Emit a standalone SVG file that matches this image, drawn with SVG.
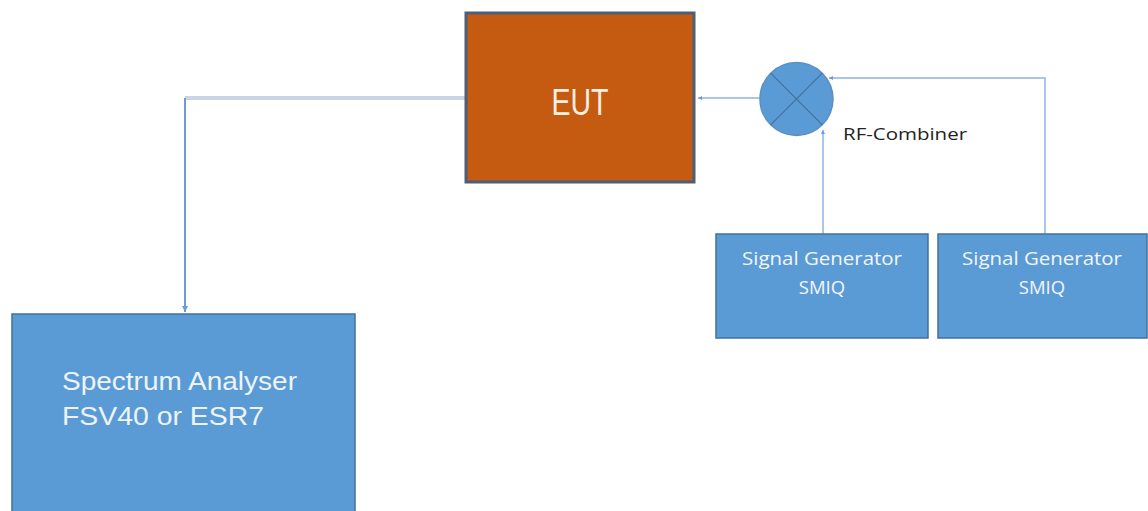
<svg xmlns="http://www.w3.org/2000/svg" width="1148" height="511" viewBox="0 0 1148 511">
<style>
.box{fill:#5b9bd5;stroke:#41719c;stroke-width:1.5}
.wt{fill:#f2f6fb;font-family:"Open Sans","Liberation Sans",sans-serif;text-anchor:middle}
.sa{fill:#eef3fa;font-family:"Liberation Sans",Arial,sans-serif}
.ln{fill:none;stroke:#8fb4e0;stroke-width:1.5}
</style>
<defs>
<marker id="ah" markerWidth="8" markerHeight="8" refX="6" refY="4" orient="auto" markerUnits="userSpaceOnUse">
<path d="M0,1 L6,4 L0,7 Z" fill="#6d9bd8"/>
</marker>
<marker id="ahs" markerWidth="6" markerHeight="6" refX="4" refY="3" orient="auto" markerUnits="userSpaceOnUse">
<path d="M0,1 L4,3 L0,5 Z" fill="#6d9bd8"/>
</marker>
</defs>
<rect width="1148" height="511" fill="#ffffff"/>
<g id="connectors">
<line x1="465" y1="98" x2="185" y2="98" stroke="#c9d5e4" stroke-width="4"/>
<line x1="185" y1="98" x2="185" y2="312" stroke="#6d9bd8" stroke-width="2" marker-end="url(#ah)"/>
<line x1="760" y1="98" x2="698" y2="98" class="ln" marker-end="url(#ahs)"/>
<line x1="823" y1="234" x2="823" y2="130" class="ln" marker-end="url(#ahs)"/>
<polyline points="1045,234 1045,78 829,78" class="ln" marker-end="url(#ahs)"/>
</g>
<g id="eut">
<rect x="466" y="13" width="228" height="169" fill="#c55a11" stroke="#4d5f78" stroke-width="3"/>
<text x="580" y="115" fill="#fbeee2" font-family="'Liberation Sans',Arial,sans-serif" font-size="37" text-anchor="middle" textLength="57" lengthAdjust="spacingAndGlyphs">EUT</text>
</g>
<g id="combiner">
<circle cx="796.5" cy="99" r="36.5" fill="#5b9bd5" stroke="#5a8fc4" stroke-width="1.5"/>
<line x1="770.7" y1="73.2" x2="822.3" y2="124.8" stroke="#41719c" stroke-width="1.2"/>
<line x1="822.3" y1="73.2" x2="770.7" y2="124.8" stroke="#41719c" stroke-width="1.2"/>
<text x="843" y="140" fill="#222222" font-family="'Open Sans','Liberation Sans',sans-serif" font-size="16.5" textLength="124" lengthAdjust="spacingAndGlyphs">RF-Combiner</text>
</g>
<g id="siggen1">
<rect x="716" y="234" width="212" height="104" class="box"/>
<text x="822" y="265" class="wt" font-size="18.5" textLength="160" lengthAdjust="spacingAndGlyphs">Signal Generator</text>
<text x="822" y="294" class="wt" font-size="18.5">SMIQ</text>
</g>
<g id="siggen2">
<rect x="938" y="234" width="209" height="104" class="box"/>
<text x="1042" y="265" class="wt" font-size="18.5" textLength="160" lengthAdjust="spacingAndGlyphs">Signal Generator</text>
<text x="1042" y="294" class="wt" font-size="18.5">SMIQ</text>
</g>
<g id="spectrum">
<rect x="12" y="314" width="343" height="200" class="box"/>
<text x="62" y="390" class="sa" font-size="26" textLength="235" lengthAdjust="spacingAndGlyphs">Spectrum Analyser</text>
<text x="62" y="425" class="sa" font-size="26" textLength="202" lengthAdjust="spacingAndGlyphs">FSV40 or ESR7</text>
</g>
</svg>
